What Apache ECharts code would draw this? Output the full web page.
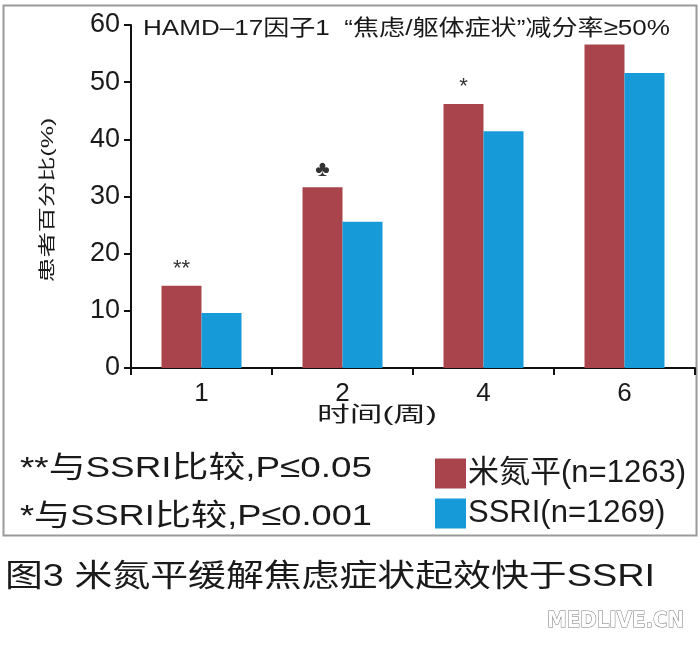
<!DOCTYPE html>
<html>
<head>
<meta charset="utf-8">
<style>
html,body{margin:0;padding:0;background:#fff;}
#c{width:700px;height:645px;}
</style>
<script src="https://cdn.jsdelivr.net/npm/echarts@6/dist/echarts.min.js"></script>
</head>
<body>
<div id="c"></div>
<script>
const categories = ['1', '2', '4', '6'];
const mirtazapine = [14.4, 31.6, 46.2, 56.6];
const ssri = [9.6, 25.6, 41.4, 51.6];
const marks = ['**', '♣', '*', ''];
const yTicks = [0, 10, 20, 30, 40, 50, 60];
const seriesNames = ['米氮平(n=1263)', 'SSRI(n=1269)'];
const titleText = 'HAMD–17因子1  “焦虑/躯体症状”减分率≥50%';
const yName = '患者百分比(%)';
const xName = '时间(周)';
const note1 = '**与SSRI比较,P≤0.05';
const note2 = '*与SSRI比较,P≤0.001';
const caption = '图3 米氮平缓解焦虑症状起效快于SSRI';
const watermark = 'MEDLIVE.CN';

const font = '"Liberation Sans", "Noto Sans CJK SC", sans-serif';
const ctx = document.createElement('canvas').getContext('2d');
function fitScale(text, size, target) {
  ctx.font = size + 'px ' + font;
  return target / ctx.measureText(text).width;
}
function txt(text, x, y, size, target, extra) {
  return Object.assign({
    type: 'text', x: x, y: y, scaleX: fitScale(text, size, target),
    style: {text: text, fontSize: size, fill: '#1a1a1a', fontFamily: font,
      verticalAlign: 'top', align: 'left'}
  }, extra || {});
}

const chart = echarts.init(document.getElementById('c'), null, {renderer: 'canvas'});
chart.setOption({
  animation: false,
  backgroundColor: '#fff',
  textStyle: {fontFamily: font},
  grid: {left: 131, right: 5, top: 25, bottom: 277, containLabel: false, outerBoundsMode: 'none'},
  legend: {
    orient: 'vertical', left: 430, top: 453,
    itemWidth: 31, itemHeight: 30, itemGap: 9, icon: 'rect',
    textStyle: {fontSize: 31, color: '#1a1a1a', fontFamily: font, padding: [0, 0, 0, -3]},
    data: seriesNames
  },
  xAxis: {
    type: 'category', data: categories,
    axisLine: {lineStyle: {color: '#111', width: 2}},
    axisTick: {show: true, length: 7, lineStyle: {color: '#111', width: 2}},
    axisLabel: {fontSize: 26, color: '#1a1a1a', margin: 13}
  },
  yAxis: {
    type: 'value', min: 0, max: 60, interval: 10,
    axisLine: {show: true, lineStyle: {color: '#111', width: 2}},
    axisTick: {show: true, length: 7, lineStyle: {color: '#111', width: 2}},
    axisLabel: {fontSize: 27, color: '#1a1a1a', margin: 11,
      formatter: v => yTicks.includes(v) ? String(v) : ''},
    splitLine: {show: false}
  },
  series: [
    {
      name: seriesNames[0], type: 'bar', data: mirtazapine,
      barWidth: 40, barGap: '0%',
      itemStyle: {color: '#a9444d'},
      label: {show: true, position: 'top', distance: 6, fontSize: 22, color: '#333',
        formatter: p => marks[p.dataIndex]}
    },
    {
      name: seriesNames[1], type: 'bar', data: ssri,
      barWidth: 40, barGap: '0%',
      itemStyle: {color: '#169bd8'}
    }
  ],
  graphic: [
    {type: 'rect', shape: {x: 3.5, y: 5.5, width: 693, height: 530}, z: -1,
      style: {fill: 'none', stroke: '#9a9a9a', lineWidth: 2}},
    txt(titleText, 143, 18, 22, 527),
    txt(yName, 48, 200, 17, 165, {rotation: Math.PI / 2,
      style: {text: yName, fontSize: 17, fill: '#1a1a1a', fontFamily: font, align: 'center', verticalAlign: 'middle'}}),
    txt(xName, 317, 405, 21, 120),
    txt(note1, 20, 454, 30, 352),
    txt(note2, 20, 502, 30, 352),
    txt(caption, 5, 562, 31, 650),
    {type: 'text', x: 547, y: 610,
      style: {text: watermark, fontSize: 22, fill: '#fff', stroke: '#777', lineWidth: 1,
        fontFamily: '"DejaVu Sans Condensed", "DejaVu Sans", sans-serif', fontWeight: 'bold'}}
  ]
});
</script>
</body>
</html>
